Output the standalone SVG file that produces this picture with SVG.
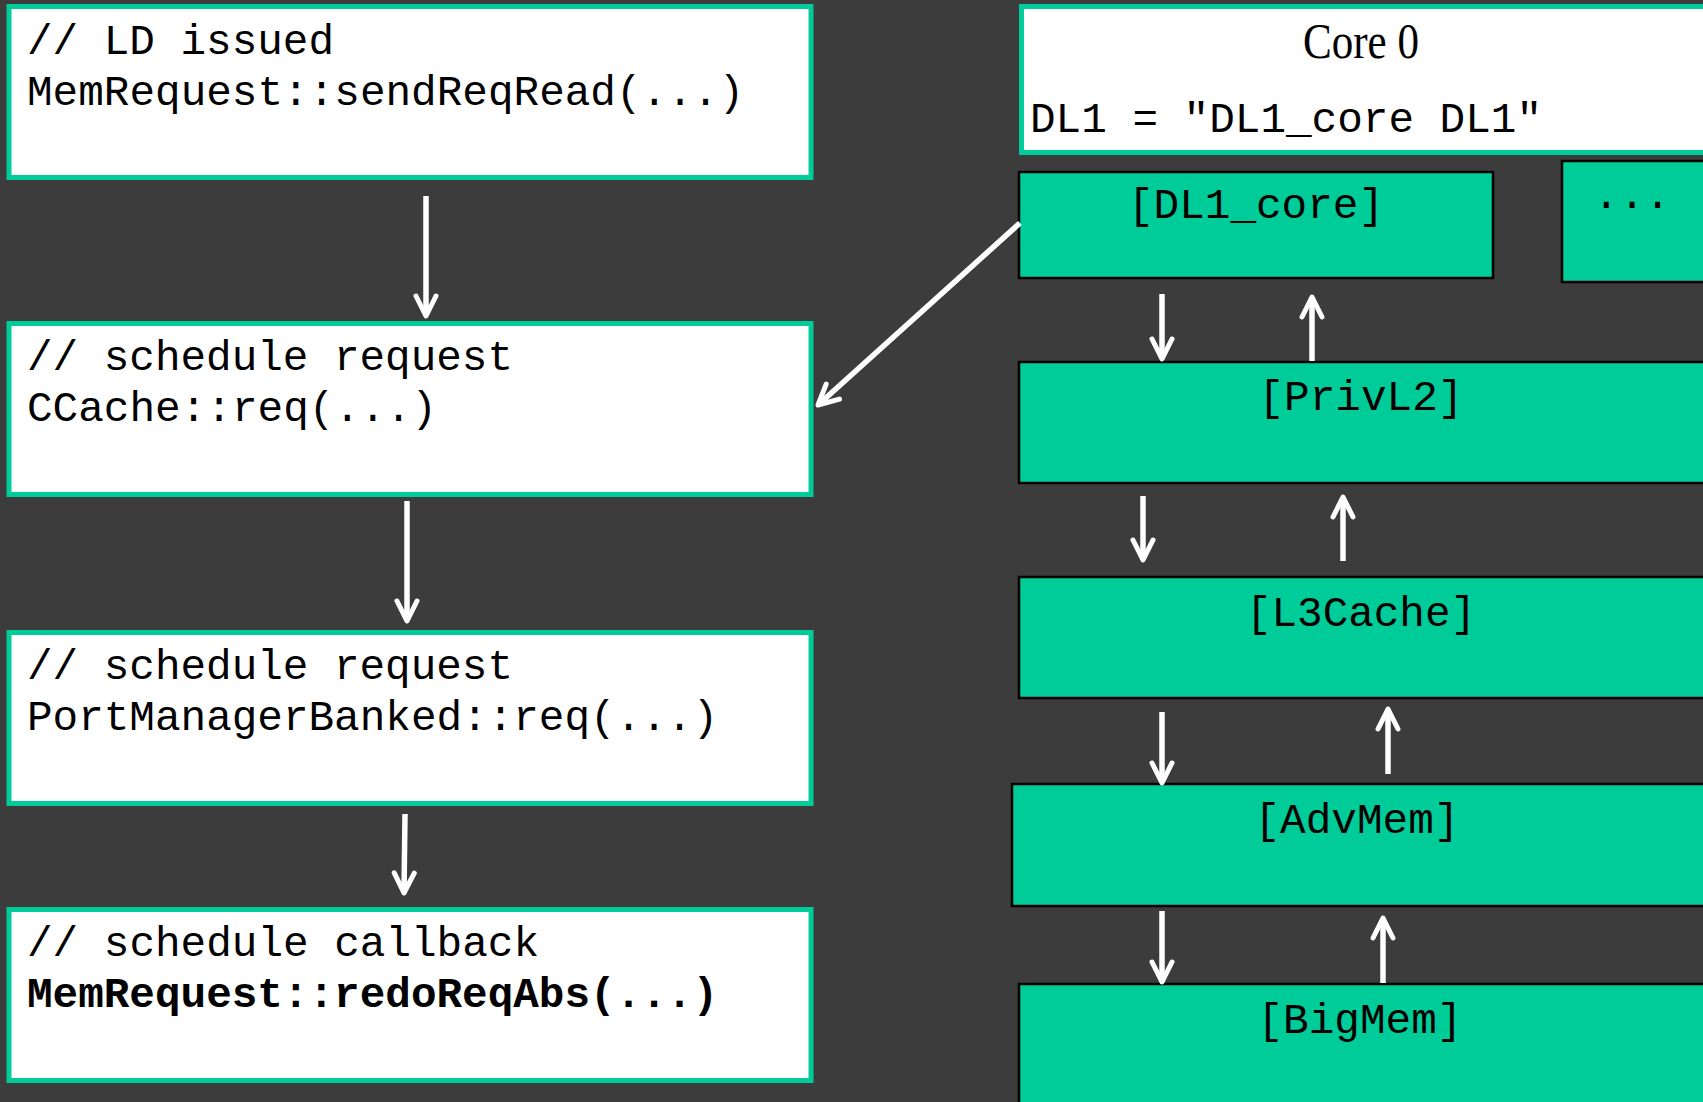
<svg xmlns="http://www.w3.org/2000/svg" width="1703" height="1102" viewBox="0 0 1703 1102">
  <style>
    .bg { fill: #3c3c3c; }
    .code { fill: #ffffff; stroke: #00cc99; stroke-width: 5; }
    .core { fill: #ffffff; stroke: #00cc99; stroke-width: 5; }
    .cache { fill: #00cc99; stroke: #000000; stroke-width: 2.5; }
    .mono { font-family: "Liberation Mono", "Courier New", monospace; font-size: 43px; fill: #000000; }
    .bold { font-weight: bold; }
    .serif { font-family: "Liberation Serif", "Times New Roman", serif; font-size: 50px; fill: #000000; }
    .mid { text-anchor: middle; }
    .wire { stroke: #ffffff; stroke-width: 5.5; fill: none; marker-end: url(#head); }
  </style>
  <defs>
    <marker id="head" viewBox="0 0 26 26" refX="23" refY="13" markerWidth="26" markerHeight="26" markerUnits="userSpaceOnUse" orient="auto">
      <path d="M3,3 L23,13 L3,23" fill="none" stroke="#ffffff" stroke-width="5" stroke-linecap="round" stroke-linejoin="round"/>
    </marker>
  </defs>

  <rect class="bg" x="0" y="0" width="1703" height="1102"/>

  <!-- call chain on the left -->
  <g id="ld-issued">
    <rect class="code" x="9" y="6.5" width="802" height="171"/>
    <text class="mono" x="27" y="54" textLength="307" lengthAdjust="spacingAndGlyphs">// LD issued</text>
    <text class="mono" x="27" y="105" textLength="717" lengthAdjust="spacingAndGlyphs">MemRequest::sendReqRead(...)</text>
  </g>
  <g id="ccache-req">
    <rect class="code" x="9" y="323.5" width="802" height="171"/>
    <text class="mono" x="27" y="370" textLength="486" lengthAdjust="spacingAndGlyphs">// schedule request</text>
    <text class="mono" x="27" y="421" textLength="410" lengthAdjust="spacingAndGlyphs">CCache::req(...)</text>
  </g>
  <g id="portmanager-req">
    <rect class="code" x="9" y="632.5" width="802" height="171"/>
    <text class="mono" x="27" y="679" textLength="486" lengthAdjust="spacingAndGlyphs">// schedule request</text>
    <text class="mono" x="27" y="730" textLength="691" lengthAdjust="spacingAndGlyphs">PortManagerBanked::req(...)</text>
  </g>
  <g id="redo-req">
    <rect class="code" x="9" y="909.5" width="802" height="171"/>
    <text class="mono" x="27" y="956" textLength="512" lengthAdjust="spacingAndGlyphs">// schedule callback</text>
    <text class="mono bold" x="27" y="1007" textLength="691" lengthAdjust="spacingAndGlyphs">MemRequest::redoReqAbs(...)</text>
  </g>

  <!-- core and memory hierarchy on the right -->
  <g id="core0">
    <rect class="core" x="1021.5" y="6.5" width="700" height="146"/>
    <text class="serif mid" x="1361" y="58" textLength="116" lengthAdjust="spacingAndGlyphs">Core 0</text>
    <text class="mono" x="1030" y="132" textLength="512" lengthAdjust="spacingAndGlyphs">DL1 = "DL1_core DL1"</text>
  </g>
  <g id="dl1-core">
    <rect class="cache" x="1019" y="172" width="474" height="106"/>
    <text class="mono mid" x="1256" y="218" textLength="256" lengthAdjust="spacingAndGlyphs">[DL1_core]</text>
  </g>
  <g id="other-cores">
    <rect class="cache" x="1562" y="161" width="160" height="121"/>
    <text class="mono mid" x="1632" y="208" textLength="77" lengthAdjust="spacingAndGlyphs">...</text>
  </g>
  <g id="privl2">
    <rect class="cache" x="1019" y="362" width="700" height="121"/>
    <text class="mono mid" x="1361" y="410" textLength="205" lengthAdjust="spacingAndGlyphs">[PrivL2]</text>
  </g>
  <g id="l3cache">
    <rect class="cache" x="1019" y="577" width="700" height="121"/>
    <text class="mono mid" x="1361" y="626" textLength="230" lengthAdjust="spacingAndGlyphs">[L3Cache]</text>
  </g>
  <g id="advmem">
    <rect class="cache" x="1012" y="784" width="710" height="122"/>
    <text class="mono mid" x="1357" y="833" textLength="205" lengthAdjust="spacingAndGlyphs">[AdvMem]</text>
  </g>
  <g id="bigmem">
    <rect class="cache" x="1019" y="984" width="700" height="140"/>
    <text class="mono mid" x="1360" y="1033" textLength="205" lengthAdjust="spacingAndGlyphs">[BigMem]</text>
  </g>

  <!-- connectors -->
  <g id="connectors">
    <line class="wire" x1="426" y1="196" x2="426" y2="316"/>
    <line class="wire" x1="407" y1="501" x2="407" y2="621"/>
    <line class="wire" x1="405" y1="814" x2="404" y2="893"/>
    <line class="wire" x1="1020" y1="223" x2="818" y2="405"/>
    <line class="wire" x1="1162" y1="294" x2="1162" y2="359"/>
    <line class="wire" x1="1312" y1="361" x2="1312" y2="297"/>
    <line class="wire" x1="1143" y1="496" x2="1143" y2="560"/>
    <line class="wire" x1="1343" y1="561" x2="1343" y2="497"/>
    <line class="wire" x1="1162" y1="712" x2="1162" y2="783"/>
    <line class="wire" x1="1388" y1="774" x2="1388" y2="709"/>
    <line class="wire" x1="1162" y1="911" x2="1162" y2="982"/>
    <line class="wire" x1="1383" y1="983" x2="1383" y2="918"/>
  </g>
</svg>
